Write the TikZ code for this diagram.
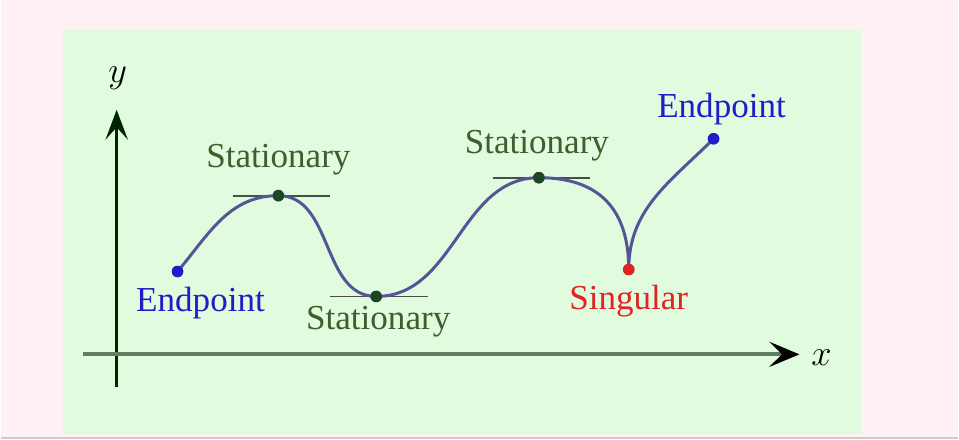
\documentclass[tikz,border=0pt]{standalone}
\usepackage{fontspec}
\setmainfont{Liberation Serif}
\usetikzlibrary{positioning,arrows.meta}

\definecolor{sfondo}{RGB}{255,240,244}
\definecolor{verdino}{RGB}{224,251,222}
\definecolor{curva}{RGB}{85,85,150}
\definecolor{scuro}{RGB}{30,70,35}
\definecolor{etich}{RGB}{60,95,45}
\definecolor{blu}{RGB}{30,30,200}
\definecolor{rosso}{RGB}{225,35,35}
\definecolor{asse}{RGB}{95,125,95}

\begin{document}
\begin{tikzpicture}[x=0.02cm, y=0.02cm, font=\fontsize{20}{24}\selectfont,
    punto/.style={circle, fill, inner sep=0pt, minimum size=0.23cm},
    etichetta/.style={inner sep=1pt},
    tangente/.style={draw=black!70, line width=1pt}]

    % sfondo
    \fill[sfondo] (0,0) rectangle (959,440);
    \fill[verdino] (62,5) rectangle (862,410);
    \draw[black!20, line width=1pt] (0,1) -- (959,1);

    % assi
    \coordinate (o1) at (116,52);
    \coordinate (o2) at (116,330);
    \coordinate (a1) at (82,85);
    \coordinate (a2) at (800,85);
    \draw[black!85!green, line width=1.4pt, -{Stealth[length=0.6cm, width=0.45cm, inset=0.25cm]}] (o1) -- (o2);
    \draw[asse, line width=2.3pt, -{Stealth[length=0.6cm, width=0.5cm, inset=0.25cm, color=black]}] (a1) -- (a2);
    \node (ly) at (117,362) {$y$};
    \node (lx) at (822,82) {$x$};

    \node[punto, blu] (e1) at (177,168) {};
    \node[punto, scuro] (s1) at (278,244) {};
    \node[punto, scuro] (s2) at (376,143) {};
    \node[punto, scuro] (s3) at (539,262) {};
    \node[punto, rosso] (sing) at (629,170) {};
    \node[punto, blu] (e2) at (714,301) {};

    \node[etichetta, blu, below=0.15cm of e1, xshift=0.46cm] (le1) {Endpoint};
    \node[etichetta, etich, above=0.24cm of s1] (ls1) {Stationary};
    \node[etichetta, etich, below=0.04cm of s2, xshift=0.04cm] (ls2) {Stationary};
    \node[etichetta, etich, above=0.17cm of s3, xshift=-0.04cm] (ls3) {Stationary};
    \node[etichetta, rosso, below=0.15cm of sing] (lsing) {Singular};
    \node[etichetta, blu, above=0.11cm of e2, xshift=0.16cm] (le2) {Endpoint};

    % tangenti orizzontali
    \draw[tangente] ([xshift=-0.9cm]s1.center) -- ([xshift=1.04cm]s1.center);
    \draw[tangente] ([xshift=-0.92cm]s2.center) -- ([xshift=1.04cm]s2.center);
    \draw[tangente] ([xshift=-0.92cm]s3.center) -- ([xshift=1.02cm]s3.center);

    \draw[curva, line width=1.7pt]
        (e1.center) to[out=50, in=180] (s1.center)
        to[out=0, in=180] (s2.center)
        to[out=0, in=180] (s3.center)
        to[out=0, in=90, looseness=1.2] (sing.center)
        to[out=90, in=225] (e2.center);

    \node[punto, blu] at (e1) {};
    \node[punto, scuro] at (s1) {};
    \node[punto, scuro] at (s2) {};
    \node[punto, scuro] at (s3) {};
    \node[punto, rosso] at (sing) {};
    \node[punto, blu] at (e2) {};

\end{tikzpicture}
\end{document}
